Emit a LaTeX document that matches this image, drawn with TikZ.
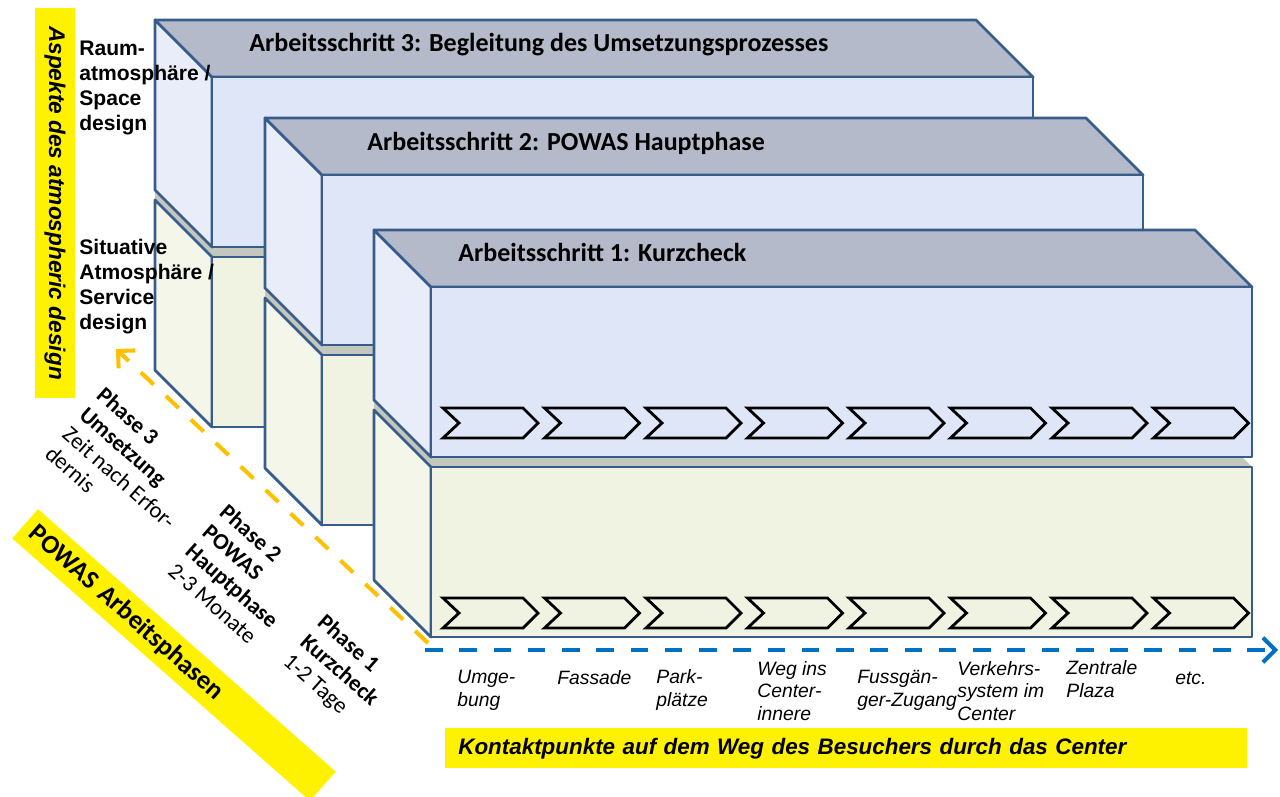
\documentclass[tikz,border=0pt]{standalone}
\usepackage{fontspec}
\setmainfont{Liberation Sans}
\newfontfamily\calibfont{Carlito}
\usepackage{xcolor}
\usepackage{tikz}
\usetikzlibrary{arrows.meta}
\usetikzlibrary{calc}

\definecolor{kantenblau}{RGB}{56,93,138}
\definecolor{dachgrau}{RGB}{181,186,202}
\definecolor{frontblau}{RGB}{222,230,247}
\definecolor{seiteblau}{RGB}{233,237,250}
\definecolor{frontbeige}{RGB}{240,242,226}
\definecolor{seitebeige}{RGB}{244,246,234}
\definecolor{spaltgrau}{RGB}{196,199,190}
\definecolor{wegblau}{RGB}{0,112,192}
\definecolor{phasenorange}{RGB}{255,192,0}

\tikzset{
  kante/.style={draw=kantenblau, line width=1.6pt, line join=round},
  winkel/.style={draw=black, line width=1.6pt, line join=miter},
  titel/.style={anchor=base west, inner sep=0pt, font=\calibfont\bfseries\fontsize{14.8}{18}\selectfont},
  aspekt/.style={anchor=west, inner sep=0pt, align=left, font=\bfseries\fontsize{12}{14.2}\selectfont},
  kontakt/.style={anchor=west, inner sep=0pt, align=left, font=\itshape\fontsize{11}{13}\selectfont},
  phase/.style={anchor=north west, inner sep=0pt, align=left, rotate=-41.4, font=\calibfont\fontsize{13}{14.8}\selectfont},
  gelb/.style={fill=yellow, inner sep=0pt, font=\bfseries\itshape\fontsize{12.75}{14}\selectfont},
  wegpfeil/.style={draw=wegblau, line width=2.3pt, dash pattern=on 10pt off 9.5pt, -{Straight Barb[length=7pt,width=14pt]}},
  phasenpfeil/.style={draw=phasenorange, line width=2.3pt, dash pattern=on 10pt off 9.5pt, -{Straight Barb[length=7pt,width=14pt]}}
}

\begin{document}
\begin{tikzpicture}[x=0.02cm, y=-0.02cm]
\useasboundingbox (0,0) rectangle (1280,796);

% the three work steps, back to front
\foreach \lx/\ty in {155/20, 265/118, 374/230} {
  % gap between the two boxes
  \fill[spaltgrau] (\lx,\ty+170) -- (\lx+57,\ty+227) -- (\lx+868,\ty+227) -- (\lx+878,\ty+237) -- (\lx+57,\ty+237) -- (\lx,\ty+180) -- cycle;
  % lower box (service design)
  \filldraw[kante, fill=seitebeige] (\lx,\ty+180) -- (\lx+57,\ty+237) -- (\lx+57,\ty+407) -- (\lx,\ty+350) -- cycle;
  \filldraw[kante, fill=frontbeige] (\lx+57,\ty+237) rectangle (\lx+878,\ty+407);
  % upper box (space design)
  \filldraw[kante, fill=seiteblau] (\lx,\ty) -- (\lx+57,\ty+57) -- (\lx+57,\ty+227) -- (\lx,\ty+170) -- cycle;
  \filldraw[kante, fill=dachgrau] (\lx,\ty) -- (\lx+821,\ty) -- (\lx+878,\ty+57) -- (\lx+57,\ty+57) -- cycle;
  \filldraw[kante, fill=frontblau] (\lx+57,\ty+57) rectangle (\lx+878,\ty+227);
}

% titles on the top faces
\node[titel] (schritt3) at (249,51) {Arbeitsschritt 3: Begleitung des Umsetzungsprozesses};
\node[titel] (schritt2) at (367,150) {Arbeitsschritt 2: POWAS Hauptphase};
\node[titel] (schritt1) at (458,261) {Arbeitsschritt 1: Kurzcheck};

% chevrons of the contact points
\foreach \yy in {423, 613} {
  \foreach \i in {0,...,7} {
    \draw[winkel] (443+101.5*\i,\yy-15) -- ++(80,0) -- ++(15,15) -- ++(-15,15) -- ++(-80,0) -- ++(16,-15) -- cycle;
  }
}

% axis of the visitor's way
\coordinate (wegstart) at (425,650);
\coordinate (wegende) at (1278,650);
\draw[wegpfeil] (wegstart) -- (wegende);

% axis of the work phases
\coordinate (phasenstart) at (428,643);
\coordinate (phasenende) at (116,349);
\draw[phasenpfeil] (phasenstart) -- (phasenende);

% aspects
\node[aspekt] (raum) at (79,88) {Raum-\\atmosphäre /\\Space\\design};
\node[aspekt] (situativ) at (79,287) {Situative\\Atmosphäre /\\Service\\design};

% contact points
\node[kontakt] (umgebung) at (457,690) {Umge-\\bung};
\node[kontakt] (fassade) at (557,678) {Fassade};
\node[kontakt] (parkplatz) at (656,690) {Park-\\plätze};
\node[kontakt] (weginnen) at (757,691) {Weg ins\\Center-\\innere};
\node[kontakt] (fussgang) at (857,690) {Fussgän-\\ger-Zugang};
\node[kontakt] (verkehr) at (957,691) {Verkehrs-\\system im\\Center};
\node[kontakt] (plaza) at (1066,679) {Zentrale\\Plaza};
\node[kontakt] (etc) at (1175,678) {etc.};

% phases
\node[phase] (phase3) at (106,385) {\textbf{Phase 3}\\\textbf{Umsetzung}\\Zeit nach Erfor-\\dernis};
\node[phase] (phase2) at (229,502) {\textbf{Phase 2}\\\textbf{POWAS}\\\textbf{Hauptphase}\\2-3 Monate};
\node[phase] (phase1) at (327,612) {\textbf{Phase 1}\\\textbf{Kurzcheck}\\1-2 Tage};

% yellow captions
\node[gelb, rotate=-90, minimum width=7.8cm, minimum height=0.82cm, font=\bfseries\itshape\fontsize{12.9}{15}\selectfont] (aspekte) at (55,203) {Aspekte des atmospheric design};
\node[gelb, anchor=north west, minimum height=0.8cm, text width=15.52cm, inner xsep=0.26cm, align=left] (kontaktpunkte) at (445,728) {Kontaktpunkte auf dem Weg des Besuchers durch das Center};
\node[gelb, rotate=-41.4, minimum height=0.78cm, text width=7.54cm, inner xsep=0.2cm, align=left, font=\calibfont\bfseries\fontsize{15}{18}\selectfont] (arbeitsphasen) at (174,655) {POWAS Arbeitsphasen};

\end{tikzpicture}
\end{document}
